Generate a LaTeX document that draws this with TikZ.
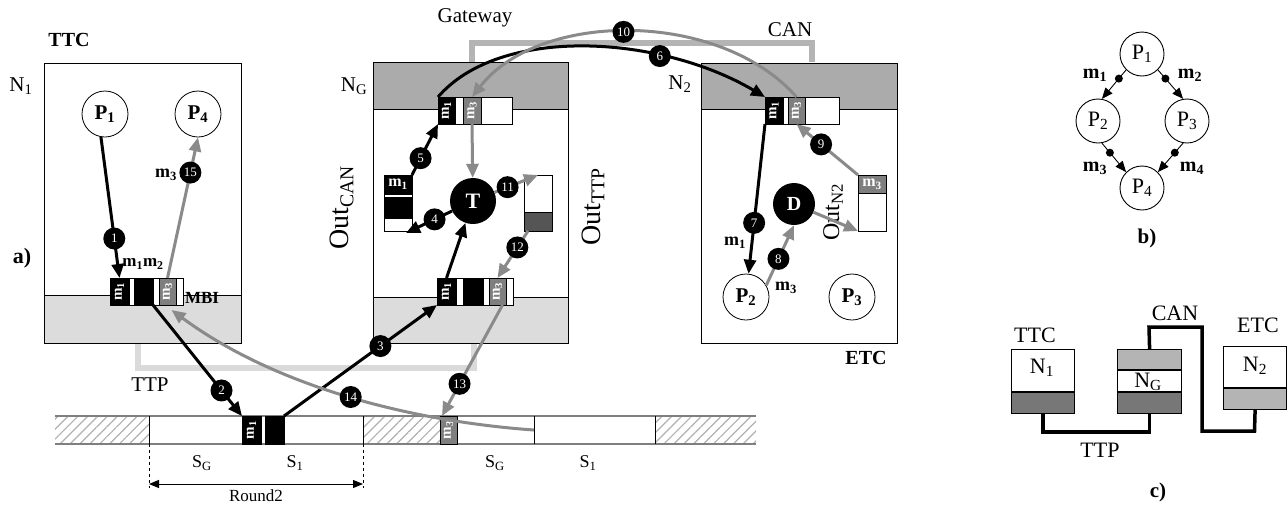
\documentclass[tikz,border=0pt]{standalone}
\usepackage{fontspec}
\usepackage{graphicx}
\setmainfont{Liberation Serif}
\usetikzlibrary{arrows.meta,patterns.meta,calc}
\definecolor{ag}{HTML}{8A8A8A}
\definecolor{cang}{HTML}{B4B4B4}
\definecolor{ttpg}{HTML}{DADADA}
\definecolor{topband}{HTML}{ABABAB}
\definecolor{botband}{HTML}{DCDCDC}
\definecolor{dgray}{HTML}{555555}
\definecolor{mgray}{HTML}{7F7F7F}
\definecolor{hatchg}{HTML}{B0B0B0}
\definecolor{cdark}{HTML}{777777}
\newcommand{\fsz}[1]{\fontsize{#1}{#1}\selectfont}
\newcommand{\rotm}[1]{\rotatebox{90}{\bfseries m\textsubscript{#1}}}
\begin{document}
\begin{tikzpicture}[x=1pt,y=-1pt,
  lbl/.style={font=\fsz{21}, inner sep=0pt},
  blbl/.style={font=\fsz{20}\bfseries, inner sep=0pt},
  num/.style={circle, fill=black, inner sep=0pt, minimum size=22pt, text=white, font=\fsz{13}},
  cell/.style={draw=black, line width=0.6pt, inner sep=0pt, outer sep=0pt, anchor=north west, minimum height=27pt, text=white, font=\fsz{15}},
  bufframe/.style={cell, line width=0.9pt, fill=white},
  boxnode/.style={draw=black, line width=0.9pt, inner sep=0pt, outer sep=0pt, anchor=north west},
  proc/.style={circle, draw=black, line width=0.8pt, fill=white, minimum size=46pt, inner sep=0pt, font=\fsz{21}\bfseries},
  task/.style={circle, fill=black, minimum size=46pt, inner sep=0pt, text=white, font=\fsz{22}\bfseries},
  barrow/.style={line width=3pt, -{Triangle[length=14pt,width=12pt]}},
  garrow/.style={ag, line width=3pt, -{Triangle[length=14pt,width=12pt]}},
  bp/.style={circle, draw=black, line width=0.9pt, minimum size=44pt, inner sep=0pt, font=\fsz{22}},
  tharrow/.style={line width=0.9pt, -{Triangle[length=11pt,width=9pt]}},
  bdot/.style={circle, fill=black, minimum size=8pt, inner sep=0pt},
  cbox/.style={draw=black, line width=1.2pt, inner sep=0pt, anchor=north west, minimum width=63pt}
]
\useasboundingbox (0,0) rectangle (1288,504);

% ---------- buses ----------
\coordinate (canA) at (472,62);
\coordinate (canB) at (812,62);
\draw[cang, line width=6pt] (canA) -- (472,43) -- (812,43) -- (canB);
\coordinate (ttpA) at (138,343);
\coordinate (ttpB) at (474,343);
\draw[ttpg, line width=6pt] (ttpA) |- (474,368) -- (ttpB);

% ---------- node boxes ----------
\fill[white] (44,63) rectangle (241,343);
\fill[botband] (44,295) rectangle (241,343);
\draw[line width=0.9pt] (44,295) -- (241,295);
\node[boxnode, minimum width=197pt, minimum height=280pt] (N1) at (44,63) {};

\fill[white] (373,62) rectangle (568,343);
\fill[topband] (373,62) rectangle (568,109);
\fill[botband] (373,297) rectangle (568,343);
\draw[line width=0.9pt] (373,109) -- (568,109) (373,297) -- (568,297);
\node[boxnode, minimum width=195pt, minimum height=281pt] (NG) at (373,62) {};

\fill[white] (701,63) rectangle (897,343);
\fill[topband] (701,63) rectangle (897,109);
\draw[line width=0.9pt] (701,109) -- (897,109);
\node[boxnode, minimum width=196pt, minimum height=280pt] (N2) at (701,63) {};

% ---------- labels ----------
\node[blbl] at (69,40) {TTC};
\node[lbl] at (21,86) {N\textsubscript{1}};
\node[blbl, font=\fsz{22}\bfseries] at (22,258) {a)};
\node[lbl] at (150,385) {TTP};
\node[lbl] at (475,18) {Gateway};
\node[lbl] at (790,30) {CAN};
\node[lbl] at (354,86) {N\textsubscript{G}};
\node[lbl] at (680,84) {N\textsubscript{2}};
\node[blbl] at (866,358) {ETC};
\node[blbl, font=\fsz{17}\bfseries] at (143,264) {m\textsubscript{1}m\textsubscript{2}};
\node[blbl, font=\fsz{17}\bfseries] at (202,298) {MBI};
\node[rotate=90, font=\fsz{28}, inner sep=0pt] at (342,208) {Out\textsubscript{CAN}};
\node[rotate=90, font=\fsz{28}, inner sep=0pt] at (593,207) {Out\textsubscript{TTP}};
\node[rotate=90, font=\fsz{24}, inner sep=0pt] at (833,212) {Out\textsubscript{N2}};

% ---------- processes ----------
\node[proc] (P1) at (105,114) {P\textsubscript{1}};
\node[proc] (P4) at (198,114) {P\textsubscript{4}};
\node[proc] (P2) at (746,297) {P\textsubscript{2}};
\node[proc] (P3) at (852,297) {P\textsubscript{3}};
\node[task] (T) at (473,201) {T};
\node[task, minimum size=42pt, font=\fsz{20}\bfseries] (D) at (794,204) {D};

% ---------- buffers ----------
\node[bufframe, minimum width=73pt] (mbi) at (110,278) {};
\node[cell, fill=black, minimum width=19pt] (mbi1) at (110,278) {\rotm{1}};
\node[cell, fill=black, minimum width=19pt] (mbi2) at (134,278) {};
\node[cell, fill=mgray, minimum width=17pt] (mbi3) at (159,278) {\rotm{3}};

\node[bufframe, minimum width=74pt] (gt) at (438,97) {};
\node[cell, fill=black, minimum width=17pt] (gt1) at (438,97) {\rotm{1}};
\node[cell, fill=mgray, minimum width=18pt] (gt3) at (463,97) {\rotm{3}};

\node[bufframe, minimum width=74pt] (n2b) at (765,97) {};
\node[cell, fill=black, minimum width=18pt] (n2b1) at (765,97) {\rotm{1}};
\node[cell, fill=mgray, minimum width=17pt] (n2b3) at (788,97) {\rotm{3}};

\node[bufframe, minimum width=76pt] (gb) at (437,278) {};
\node[cell, fill=black, minimum width=19pt] (gb1) at (437,278) {\rotm{1}};
\node[cell, fill=black, minimum width=20pt] (gb2) at (463,278) {};
\node[cell, fill=mgray, minimum width=17pt] (gb3) at (489,278) {\rotm{3}};

\node[bufframe, minimum width=28pt, minimum height=56pt] (oc) at (384,175) {};
\node[cell, fill=black, minimum width=28pt, minimum height=19pt, font=\fsz{16}\bfseries] (oc1) at (384,175) {m\textsubscript{1}};
\node[cell, fill=black, minimum width=28pt, minimum height=21pt] (oc2) at (384,197) {};

\node[bufframe, minimum width=28pt, minimum height=56pt] (otp) at (524,175) {};
\node[cell, fill=dgray, minimum width=28pt, minimum height=19pt] (otp1) at (524,212) {};

\node[bufframe, minimum width=28pt, minimum height=56pt] (on2) at (858,175) {};
\node[cell, fill=mgray, minimum width=28pt, minimum height=18pt, font=\fsz{16}\bfseries] (on21) at (858,175) {m\textsubscript{3}};

% ---------- timeline ----------
\foreach \a/\b in {55/149, 363/440, 655/756}
  \fill[pattern={Lines[angle=45,distance=7pt,line width=1.2pt]}, pattern color=hatchg] (\a,416) rectangle (\b,444);
\draw[mgray, line width=1.2pt] (55,416) -- (756,416) (55,444) -- (756,444);
\draw[line width=0.8pt] (149,416) -- (149,444) (363,416) -- (363,444) (534,416) -- (534,444) (655,416) -- (655,444);
\node[cell, fill=black, minimum width=19pt, minimum height=28pt] (tl1) at (242,416) {\rotm{1}};
\node[cell, fill=black, minimum width=19pt, minimum height=28pt] (tl2) at (265,416) {};
\node[cell, fill=mgray, minimum width=17pt, minimum height=28pt] (tl3) at (440,416) {\rotm{3}};
\draw[dashed, line width=0.6pt] (149,444) -- (149,488) (363,444) -- (363,488);
\coordinate (rL) at (149,484);
\coordinate (rR) at (363,484);
\draw[line width=1pt, {Triangle[length=10pt,width=8pt]}-{Triangle[length=10pt,width=8pt]}] (rL) -- (rR);
\node[lbl, font=\fsz{18}] at (202,463) {S\textsubscript{G}};
\node[lbl, font=\fsz{18}] at (295,463) {S\textsubscript{1}};
\node[lbl, font=\fsz{18}] at (495,463) {S\textsubscript{G}};
\node[lbl, font=\fsz{18}] at (588,463) {S\textsubscript{1}};
\node[lbl, font=\fsz{17}] at (256,496) {Round2};
\coordinate (div14) at (534,430);

% ---------- message flows ----------
\draw[barrow] (P1.-100) -- (mbi1.north) node[num, pos=0.72] {1};
\draw[garrow] (mbi3.north) -- (P4.south) node[num, pos=0.75] {15};
\node[blbl, font=\fsz{18}\bfseries] at (166,175) {m\textsubscript{3}};
\draw[barrow] (mbi2.south east) -- (tl1.north west) node[num, pos=0.77] {2};
\draw[barrow] (tl2.north east) -- (gb1.south west) node[num, pos=0.63] {3};
\draw[barrow] (gb1.north) -- (T);
\draw[barrow] (T) -- ($(oc.south east)+(-6,2)$) node[num, pos=0.38] {4};
\draw[barrow] (oc.north east) -- (gt1.south west) node[num, pos=0.33] {5};
\draw[barrow] (gt1.north west) .. controls (500,25) and (660,35) .. (n2b1.north west) node[num, pos=0.7] {6};
\draw[barrow] (n2b1.south west) -- (P2) node[num, pos=0.66] {7};
\node[blbl, font=\fsz{18}\bfseries] at (735,243) {m\textsubscript{1}};
\draw[garrow] (P2.30) -- (D.south) node[num, pos=0.44] {8};
\node[blbl, font=\fsz{18}\bfseries] at (786,288) {m\textsubscript{3}};
\draw[garrow] (on2.north west) -- (n2b3.south) node[num, pos=0.6] {9};
\draw[garrow] (D) -- (on2.south west);
\draw[garrow] (n2b3.north) .. controls (720,10) and (540,10) .. (gt3.north) node[num, pos=0.52] {10};
\draw[garrow] (gt3.south) -- (T);
\draw[garrow] (T) -- ($(otp.north west)+(14,0)$) node[num, pos=0.3] {11};
\draw[garrow] ($(otp.south west)+(4,0)$) -- (gb3.north) node[num, pos=0.35] {12};
\draw[garrow] ($(gb3.south)+(5,0)$) -- ($(tl3.north west)+(2,0)$) node[num, pos=0.71] {13};
\draw[garrow] (div14) .. controls (420,422) and (280,390) .. ($(mbi3.south)+(4,5)$) node[num, pos=0.5] {14};

% ---------- b) ----------
\node[bp] (b1) at (1142,54) {P\textsubscript{1}};
\node[bp] (b2) at (1098,121) {P\textsubscript{2}};
\node[bp] (b3) at (1187,121) {P\textsubscript{3}};
\node[bp] (b4) at (1142,188) {P\textsubscript{4}};
\draw[tharrow] (b1.225) -- (b2.80) node[bdot, pos=0.3] {};
\draw[tharrow] (b1.-45) -- (b3.100) node[bdot, pos=0.3] {};
\draw[tharrow] (b2.-80) -- (b4.135) node[bdot, pos=0.33] {};
\draw[tharrow] (b3.-100) -- (b4.45) node[bdot, pos=0.33] {};
\node[blbl] at (1095,75) {m\textsubscript{1}};
\node[blbl] at (1190,75) {m\textsubscript{2}};
\node[blbl] at (1095,168) {m\textsubscript{3}};
\node[blbl] at (1192,168) {m\textsubscript{4}};
\node[blbl, font=\fsz{21}\bfseries] at (1147,238) {b)};

% ---------- c) ----------
\fill[cdark] (1011,392) rectangle (1074,413);
\draw[line width=1.2pt] (1011,392) -- (1074,392);
\node[cbox, minimum height=64pt] (cN1) at (1011,349) {};
\fill[cang] (1117,349) rectangle (1181,370);
\fill[cdark] (1117,392) rectangle (1181,413);
\draw[line width=1.2pt] (1117,370) -- (1181,370) (1117,392) -- (1181,392);
\node[cbox, minimum width=64pt, minimum height=64pt] (cNG) at (1117,349) {};
\fill[cang] (1223,388) rectangle (1286,409);
\draw[line width=1.2pt] (1223,388) -- (1286,388);
\node[cbox, minimum height=63pt] (cN2) at (1223,346) {};
\draw[line width=3.5pt] (cN1.south) -- ++(0,18) -| (cNG.south);
\draw[line width=3.5pt] (cNG.north) -- (1149,327) -- (1202,327) -- (1202,431) -- (1254.5,431) -- (cN2.south);
\node[lbl, font=\fsz{22}] at (1035,335) {TTC};
\node[lbl, font=\fsz{22}] at (1042,368) {N\textsubscript{1}};
\node[lbl, font=\fsz{22}] at (1148,382) {N\textsubscript{G}};
\node[lbl, font=\fsz{22}] at (1255,366) {N\textsubscript{2}};
\node[lbl, font=\fsz{22}] at (1258,325) {ETC};
\node[lbl, font=\fsz{22}] at (1100,450) {TTP};
\node[lbl, font=\fsz{22}] at (1175,313) {CAN};
\node[blbl, font=\fsz{21}\bfseries] at (1158,492) {c)};
\end{tikzpicture}
\end{document}
